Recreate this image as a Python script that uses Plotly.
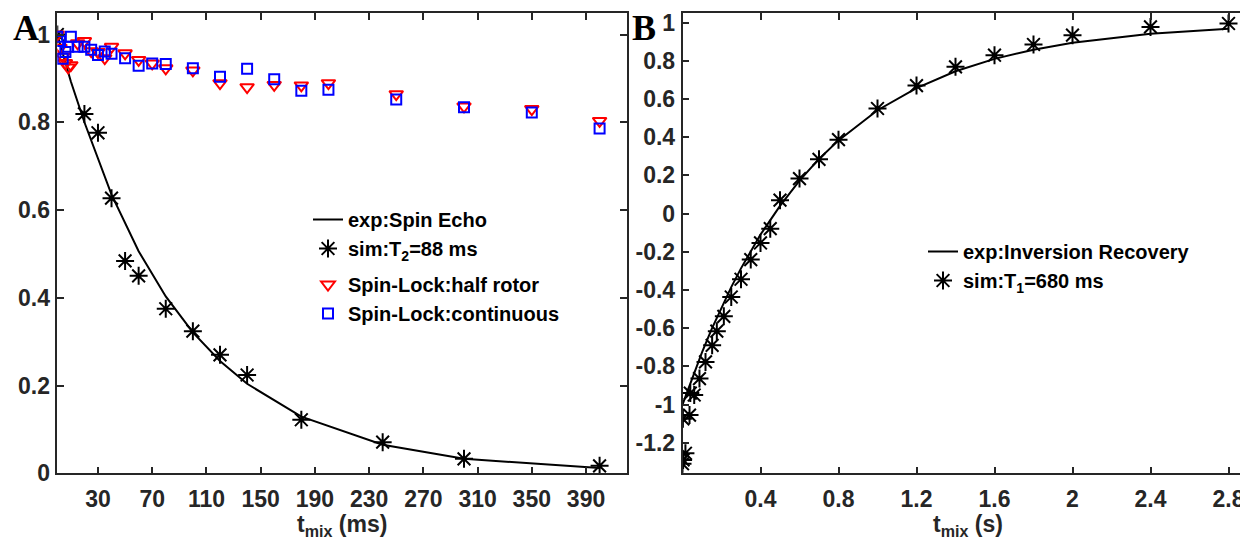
import plotly.graph_objects as go

# ---------------- Panel A data (t in ms) ----------------
se_exp_t = [0, 10, 20, 40, 60, 80, 100, 120, 140, 180, 240, 300, 400]
se_exp_v = [1.0, 0.893, 0.80, 0.635, 0.506, 0.403, 0.321, 0.256, 0.204, 0.129, 0.065, 0.033, 0.012]

se_sim_t = [0, 20, 30, 40, 50, 60, 80, 100, 120, 140, 180, 240, 300, 400]
se_sim_v = [1.0, 0.819, 0.776, 0.627, 0.484, 0.45, 0.375, 0.324, 0.27, 0.224, 0.122, 0.071, 0.033, 0.017]

half_t = [0, 2, 4, 6, 8, 10, 15, 20, 25, 30, 35, 40, 50, 60, 70, 80, 100, 120, 140, 160, 180, 200, 250, 300, 350, 400]
half_v = [1.0, 0.97, 0.95, 0.935, 0.925, 0.93, 0.98, 0.985, 0.962, 0.96, 0.946, 0.972, 0.957, 0.942, 0.934, 0.923,
          0.918, 0.889, 0.880, 0.885, 0.884, 0.889, 0.864, 0.836, 0.830, 0.803]

cont_t = [0, 2, 4, 6, 8, 10, 15, 20, 25, 30, 35, 40, 50, 60, 70, 80, 100, 120, 140, 160, 180, 200, 250, 300, 350, 400]
cont_v = [0.995, 0.985, 0.945, 0.96, 0.972, 0.995, 0.972, 0.972, 0.965, 0.953, 0.961, 0.956, 0.946, 0.929, 0.934,
          0.933, 0.923, 0.904, 0.922, 0.898, 0.872, 0.874, 0.852, 0.834, 0.822, 0.786]

a_xticks = [30, 70, 110, 150, 190, 230, 270, 310, 350, 390]
a_yticks = [0, 0.2, 0.4, 0.6, 0.8, 1]
a_yticklabels = ["0", "0.2", "0.4", "0.6", "0.8", "1"]

# ---------------- Panel B data (t in s) ----------------
ir_exp_t = [0, 0.05, 0.1, 0.15, 0.2, 0.25, 0.3, 0.4, 0.5, 0.6, 0.7, 0.8, 1.0, 1.2, 1.4, 1.6, 1.8, 2.0, 2.4, 2.8]
ir_exp_v = [-1.0, -0.858, -0.727, -0.604, -0.49, -0.385, -0.287, -0.11, 0.04, 0.172, 0.286, 0.383, 0.541, 0.657,
            0.745, 0.81, 0.858, 0.894, 0.941, 0.968]

ir_sim_t = [0.0, 0.003, 0.015, 0.002, 0.036, 0.04, 0.06, 0.087, 0.118, 0.152, 0.176, 0.212, 0.25, 0.30, 0.35,
            0.40, 0.45, 0.50, 0.60, 0.70, 0.80, 1.0, 1.2, 1.4, 1.6, 1.8, 2.0, 2.4, 2.8]
ir_sim_v = [-1.31, -1.29, -1.255, -1.075, -1.055, -0.94, -0.95, -0.864, -0.777, -0.69, -0.616, -0.538, -0.437,
            -0.344, -0.241, -0.154, -0.079, 0.07, 0.183, 0.284, 0.387, 0.55, 0.67, 0.768, 0.829, 0.885, 0.934,
            0.977, 0.995]

b_xticks = [0.4, 0.8, 1.2, 1.6, 2.0, 2.4, 2.8]
b_xticklabels = ["0.4", "0.8", "1.2", "1.6", "2", "2.4", "2.8"]
b_yticks = [1, 0.8, 0.6, 0.4, 0.2, 0, -0.2, -0.4, -0.6, -0.8, -1, -1.2]
b_yticklabels = ["1", "0.8", "0.6", "0.4", "0.2", "0", "-0.2", "-0.4", "-0.6", "-0.8", "-1", "-1.2"]

# page body has an 8px margin: figure is 1240x536 placed at (8,8) in a 1248x544 window
OFF = 8
W, H = 1240, 536


def px(x):
    return (x - OFF) / W


def py(y):
    return 1 - (y - OFF) / H


AX = "#262626"
FONT = "Liberation Sans, Arial, sans-serif"

fig = go.Figure()

star = dict(symbol="asterisk-open", size=15, color="black", line=dict(color="black", width=2))

# Panel A traces
fig.add_trace(go.Scatter(x=se_exp_t, y=se_exp_v, mode="lines", line=dict(color="black", width=2),
                         name="exp:Spin Echo", xaxis="x", yaxis="y", legend="legend", legendgroup="se"))
fig.add_trace(go.Scatter(x=se_sim_t, y=se_sim_v, mode="markers", marker=star,
                         name="sim:T<sub>2</sub>=88 ms", xaxis="x", yaxis="y", legend="legend", legendgroup="se"))
fig.add_trace(go.Scatter(x=half_t, y=half_v, mode="markers",
                         marker=dict(symbol="triangle-down-open", size=12, color="#FF0000",
                                     line=dict(color="#FF0000", width=2)),
                         name="Spin-Lock:half rotor", xaxis="x", yaxis="y", legend="legend", legendgroup="sl"))
fig.add_trace(go.Scatter(x=cont_t, y=cont_v, mode="markers",
                         marker=dict(symbol="square-open", size=10, color="#0000FF",
                                     line=dict(color="#0000FF", width=2)),
                         name="Spin-Lock:continuous", xaxis="x", yaxis="y", legend="legend", legendgroup="sl"))

# Panel B traces
fig.add_trace(go.Scatter(x=ir_exp_t, y=ir_exp_v, mode="lines", line=dict(color="black", width=2),
                         name="exp:Inversion Recovery", xaxis="x2", yaxis="y2", legend="legend2"))
fig.add_trace(go.Scatter(x=ir_sim_t, y=ir_sim_v, mode="markers", marker=star,
                         name="sim:T<sub>1</sub>=680 ms", xaxis="x2", yaxis="y2", legend="legend2"))

ydom = [py(473.3), py(13)]

common_axis = dict(showline=True, linecolor=AX, linewidth=1.5, mirror="ticks", ticks="inside",
                   ticklen=7, tickwidth=1.5, tickcolor=AX, showgrid=False, zeroline=False,
                   automargin=False,
                   tickfont=dict(family=FONT, size=23, color=AX, weight="bold"))

fig.update_layout(
    width=W, height=H,
    margin=dict(l=0, r=0, t=0, b=0),
    paper_bgcolor="white", plot_bgcolor="white",
    xaxis=dict(domain=[px(57.3), px(626.7)], range=[0, 420], anchor="y",
               tickmode="array", tickvals=a_xticks, ticklabelstandoff=4, **common_axis),
    yaxis=dict(domain=ydom, range=[0, 1.049], anchor="x",
               tickmode="array", tickvals=a_yticks, ticktext=a_yticklabels, ticklabelstandoff=1,
               **common_axis),
    xaxis2=dict(domain=[px(682.5), 1.0], range=[0, 2.9], anchor="y2",
                tickmode="array", tickvals=b_xticks, ticktext=b_xticklabels, ticklabelstandoff=4,
                **common_axis),
    yaxis2=dict(domain=ydom, range=[-1.36, 1.05], anchor="x2",
                tickmode="array", tickvals=b_yticks, ticktext=b_yticklabels, ticklabelstandoff=1,
                **common_axis),
    legend=dict(x=px(308), y=py(200), xanchor="left", yanchor="top", bgcolor="rgba(0,0,0,0)",
                borderwidth=0, itemwidth=30, traceorder="grouped", tracegroupgap=7,
                font=dict(family=FONT, size=20, color="black", weight="bold")),
    legend2=dict(x=px(923), y=py(232), xanchor="left", yanchor="top", bgcolor="rgba(0,0,0,0)",
                 borderwidth=0, itemwidth=30, traceorder="normal",
                 font=dict(family=FONT, size=20, color="black", weight="bold")),
    showlegend=True,
    annotations=[
        dict(text="<b>t<sub>mix</sub> (ms)</b>", xref="paper", yref="paper", x=px(342), y=py(509),
             xanchor="center", yanchor="top", showarrow=False,
             font=dict(family=FONT, size=23, color=AX)),
        dict(text="<b>t<sub>mix</sub> (s)</b>", xref="paper", yref="paper", x=px(968), y=py(509),
             xanchor="center", yanchor="top", showarrow=False,
             font=dict(family=FONT, size=23, color=AX)),
        dict(text="<b>A</b>", xref="paper", yref="paper", x=px(11), y=py(6),
             xanchor="left", yanchor="top", showarrow=False,
             font=dict(family="Liberation Serif, Times New Roman, serif", size=36, color="black")),
        dict(text="<b>B</b>", xref="paper", yref="paper", x=px(630), y=py(6),
             xanchor="left", yanchor="top", showarrow=False,
             font=dict(family="Liberation Serif, Times New Roman, serif", size=36, color="black")),
    ],
)

fig.write_html("out.html")
